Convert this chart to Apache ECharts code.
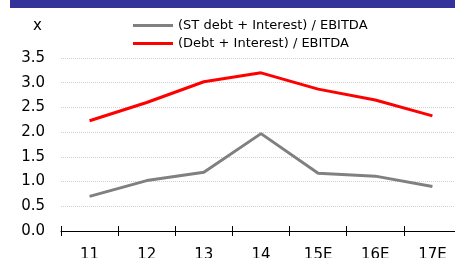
<!DOCTYPE html>
<html>
<head>
<meta charset="utf-8">
<script src="https://cdn.jsdelivr.net/npm/echarts@6/dist/echarts.min.js"></script>
<style>
  html, body { margin: 0; padding: 0; background: #fff; }
  #chart { width: 455px; height: 258px; }
</style>
</head>
<body>
<div id="chart"></div>
<script>
// chart data
const years = ['11', '12', '13', '14', '15E', '16E', '17E'];
const stDebtRatio = [0.70, 1.02, 1.19, 1.97, 1.17, 1.11, 0.90];
const debtRatio = [2.23, 2.60, 3.02, 3.20, 2.87, 2.65, 2.33];
const seriesNames = ['(ST debt + Interest) / EBITDA', '(Debt + Interest) / EBITDA'];

const font = 'DejaVu Sans, sans-serif';

const chart = echarts.init(document.getElementById('chart'));

chart.setOption({
    animation: false,
    grid: { left: 61, right: -6, top: 58, bottom: 27, outerBoundsMode: 'none', containLabel: false },
    graphic: [
        { type: 'rect', shape: { x: 10, y: 0, width: 445, height: 8 }, style: { fill: '#333399' } },
        { type: 'text', left: 33, top: 19, style: { text: 'x', font: '15px ' + font, fill: '#000' } }
    ],
    legend: {
        orient: 'vertical',
        left: 128,
        top: 14,
        itemWidth: 40,
        itemHeight: 3,
        itemGap: 5,
        icon: 'rect',
        textStyle: { fontFamily: font, fontSize: 13, color: '#000' },
        data: seriesNames
    },
    xAxis: [
        {
            type: 'category',
            data: years,
            axisLine: { show: true, onZero: false, lineStyle: { color: '#000', width: 1 } },
            axisTick: { show: true, length: 5, lineStyle: { color: '#000' } },
            axisLabel: { fontFamily: font, fontSize: 15, color: '#000', margin: 17, interval: 0 }
        },
        {
            // second copy only to draw the inner half of the ticks
            type: 'category',
            data: years,
            position: 'bottom',
            axisLine: { show: false },
            axisTick: { show: true, inside: true, length: 5, lineStyle: { color: '#000' } },
            axisLabel: { show: false }
        }
    ],
    yAxis: {
        type: 'value',
        min: 0,
        max: 3.5,
        interval: 0.5,
        axisLine: { show: false },
        axisTick: { show: false },
        splitLine: { lineStyle: { color: '#d0d0d0', type: 'dotted' } },
        axisLabel: {
            fontFamily: font, fontSize: 15, color: '#000', margin: 16,
            formatter: v => v.toFixed(1)
        }
    },
    series: [
        {
            name: seriesNames[0],
            type: 'line',
            data: stDebtRatio,
            symbol: 'none',
            itemStyle: { color: '#808080' },
            lineStyle: { color: '#808080', width: 3 }
        },
        {
            name: seriesNames[1],
            type: 'line',
            data: debtRatio,
            symbol: 'none',
            itemStyle: { color: '#ff0000' },
            lineStyle: { color: '#ff0000', width: 3 }
        }
    ]
});
</script>
</body>
</html>
